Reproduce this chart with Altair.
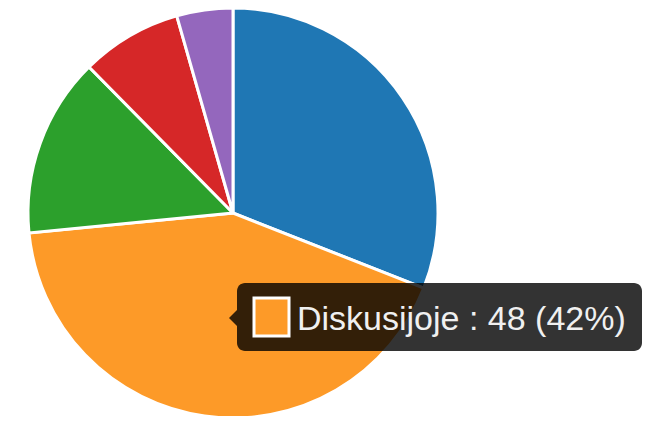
import altair as alt
import pandas as pd

categories = ["Įgyvendinta", "Diskusijoje", "Svarstoma", "Atmesta", "Kita"]
values = [35, 48, 16, 9, 5]
colors = ["#1f77b4", "#fd9a28", "#2ca02c", "#d62728", "#9467bd"]

df = pd.DataFrame({"category": categories, "value": values, "idx": list(range(len(values)))})

total = sum(values)
hi = 1
tip_text = f"{categories[hi]} : {values[hi]} ({round(100 * values[hi] / total)}%)"
tip_df = pd.DataFrame({"label": [tip_text]})

pie = alt.Chart(df).mark_arc(radius=205, stroke="white", strokeWidth=3).encode(
    theta=alt.Theta("value:Q", stack=True),
    color=alt.Color("category:N", scale=alt.Scale(domain=categories, range=colors), legend=None),
    order=alt.Order("idx:Q"),
    x=alt.value(225),
    y=alt.value(205),
)

box = alt.Chart(tip_df).mark_rect(cornerRadius=8, color="black", opacity=0.8).encode(
    x=alt.value(229), x2=alt.value(634), y=alt.value(275), y2=alt.value(343)
)

arrow = alt.Chart(tip_df).mark_point(
    shape="M0,-1L-1,0L0,1Z", filled=True, color="black", opacity=0.8, size=256, strokeWidth=0
).encode(x=alt.value(229), y=alt.value(310))

swatch = alt.Chart(tip_df).mark_rect(color=colors[hi], stroke="white", strokeWidth=3).encode(
    x=alt.value(246), x2=alt.value(281), y=alt.value(290), y2=alt.value(328)
)

text = alt.Chart(tip_df).mark_text(
    align="left", baseline="alphabetic", font="Liberation Sans", fontSize=34, color="#f0f0f0"
).encode(text="label:N", x=alt.value(289), y=alt.value(322))

chart = alt.layer(pie, box, arrow, swatch, text).properties(
    width=634, height=408, padding=0,
    autosize=alt.AutoSizeParams(type="none"),
).configure_view(stroke=None)

chart.save("out.html", embed_options={"renderer": "svg", "actions": False})
